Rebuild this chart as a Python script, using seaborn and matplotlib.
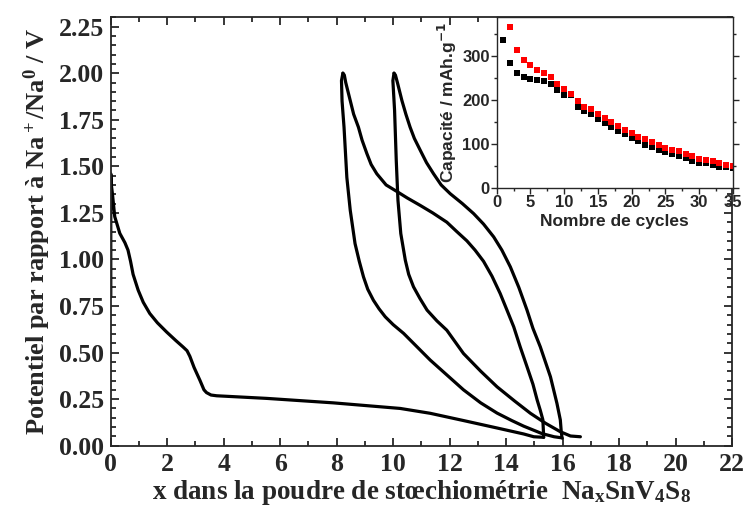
import numpy as np
import pandas as pd
import matplotlib
matplotlib.use("Agg")
import matplotlib.pyplot as plt
from matplotlib.ticker import MultipleLocator, FormatStrFormatter
import seaborn as sns

# galvanostatic curves (x in Na_xSnV4S8, potential in V)
dis1_x = [0.0, 0.0, 0.02, 0.06, 0.14, 0.32, 0.50, 0.61, 0.70, 0.79, 0.97, 1.15, 1.38, 1.65,
          1.98, 2.30, 2.56, 2.70, 2.80, 2.95, 3.16, 3.30, 3.39, 3.55, 3.75, 5.52, 7.88, 10.25,
          11.31, 12.49, 13.68, 14.62, 14.98, 15.33]
dis1_v = [0.80, 1.46, 1.40, 1.35, 1.23, 1.14, 1.09, 1.05, 0.99, 0.92, 0.835, 0.77, 0.71, 0.66,
          0.61, 0.565, 0.53, 0.51, 0.48, 0.42, 0.35, 0.30, 0.285, 0.272, 0.268, 0.254, 0.23, 0.20,
          0.174, 0.135, 0.095, 0.063, 0.048, 0.045]

ch1_x = [15.33, 15.32, 15.30, 15.21, 15.10, 14.95, 14.74, 14.50, 14.27, 14.03, 13.79, 13.50,
         13.20, 12.90, 12.61, 12.25, 11.90, 11.40, 10.96, 10.50, 10.13, 9.75, 9.42, 9.22, 9.07,
         8.90, 8.77, 8.60, 8.48, 8.32, 8.27, 8.22]
ch1_v = [0.045, 0.08, 0.14, 0.19, 0.245, 0.33, 0.424, 0.53, 0.638, 0.728, 0.817, 0.91,
         0.99, 1.05, 1.10, 1.15, 1.20, 1.25, 1.29, 1.33, 1.365, 1.40, 1.46, 1.51, 1.568,
         1.64, 1.71, 1.78, 1.853, 1.95, 1.99, 2.0]

dis2_x = [8.22, 8.17, 8.19, 8.26, 8.36, 8.48, 8.65, 8.80, 8.95, 9.10, 9.30, 9.50, 9.72, 10.00,
          10.37, 10.85, 11.31, 11.90, 12.49, 13.10, 13.68, 14.20, 14.62, 15.27, 15.70, 15.98]
dis2_v = [2.0, 1.96, 1.85, 1.71, 1.44, 1.264, 1.085, 0.99, 0.906, 0.84, 0.781, 0.735, 0.692,
          0.65, 0.603, 0.53, 0.46, 0.38, 0.30, 0.23, 0.175, 0.135, 0.105, 0.065, 0.048, 0.042]

ch2_x = [15.98, 15.95, 15.92, 15.80, 15.57, 15.21, 14.95, 14.74, 14.45, 14.15, 13.85, 13.56,
         13.20, 12.85, 12.45, 12.02, 11.70, 11.43, 11.18, 10.96, 10.75, 10.60, 10.45, 10.31,
         10.15, 10.08, 10.03]
ch2_v = [0.042, 0.08, 0.138, 0.227, 0.37, 0.531, 0.63, 0.728, 0.85, 0.96, 1.05, 1.121,
         1.19, 1.246, 1.30, 1.353, 1.40, 1.46, 1.52, 1.586, 1.65, 1.71, 1.78, 1.853,
         1.95, 1.99, 2.0]

dis3_x = [10.03, 9.99, 10.02, 10.05, 10.11, 10.17, 10.27, 10.43, 10.55, 10.72, 10.95, 11.20,
          11.55, 11.90, 12.49, 13.10, 13.68, 14.30, 14.86, 15.40, 15.92, 16.28, 16.63]
dis3_v = [2.0, 1.96, 1.88, 1.80, 1.53, 1.317, 1.139, 0.996, 0.92, 0.853, 0.79, 0.728,
          0.67, 0.62, 0.495, 0.40, 0.316, 0.24, 0.174, 0.12, 0.075, 0.052, 0.048]

# inset: capacity vs cycle number
cycles_black = list(range(1, 36))
cap_black = [338, 284, 262, 253, 248, 247, 244, 238, 223, 212, 212, 185, 176, 168, 158, 148,
             139, 131, 122, 114, 107, 99, 93, 86, 82, 78, 73, 68, 61, 58, 56, 52, 48, 47, 46]
cycles_red = list(range(2, 36))
cap_red = [367, 315, 292, 281, 269, 262, 253, 238, 225, 215, 198, 185, 180, 168, 160, 151,
           141, 133, 125, 117, 112, 104, 98, 92, 87, 85, 78, 72, 65, 63, 61, 56, 53, 51]

sns.set_style("ticks")
plt.rcParams["font.family"] = ["Liberation Serif", "DejaVu Serif"]
plt.rcParams["font.weight"] = "bold"
plt.rcParams["mathtext.fontset"] = "custom"
plt.rcParams["mathtext.rm"] = "Liberation Serif:bold"
plt.rcParams["mathtext.it"] = "Liberation Serif:bold"
plt.rcParams["mathtext.bf"] = "Liberation Serif:bold"

fig = plt.figure(figsize=(7.44, 5.2), dpi=100)
ax = fig.add_axes([0.1489, 0.1429, 0.835, 0.8238])

branches = [(dis1_x, dis1_v), (ch1_x, ch1_v), (dis2_x, dis2_v), (ch2_x, ch2_v), (dis3_x, dis3_v)]
for bx, bv in branches:
    df = pd.DataFrame({"x": bx, "v": bv})
    sns.lineplot(data=df, x="x", y="v", sort=False, estimator=None, color="black",
                 linewidth=2.3, ax=ax, solid_joinstyle="round", solid_capstyle="round")

ax.set_xlim(0, 22)
ax.set_ylim(0, 2.3)
ax.xaxis.set_major_locator(MultipleLocator(2))
ax.xaxis.set_minor_locator(MultipleLocator(1))
ax.yaxis.set_major_locator(MultipleLocator(0.25))
ax.yaxis.set_minor_locator(MultipleLocator(0.05))
ax.yaxis.set_major_formatter(FormatStrFormatter("%.2f"))
ax.tick_params(which="both", direction="in", top=True, right=True, width=1.3)
ax.tick_params(which="major", length=6, labelsize=18.5, pad=5)
ax.tick_params(which="minor", length=3.5)
for lab in ax.get_xticklabels() + ax.get_yticklabels():
    lab.set_fontweight("bold")
for sp in ax.spines.values():
    sp.set_linewidth(1.3)
ax.set_xlabel(r"x dans la poudre de stœchiométrie  Na$_x$SnV$_4$S$_8$", fontsize=19.5,
              fontweight="bold", labelpad=2)
ax.set_ylabel(r"Potentiel par rapport à Na$^+$/Na$^0$ / V", fontsize=19,
              fontweight="bold", labelpad=4)

# inset
ins = fig.add_axes([0.6675, 0.6385, 0.3177, 0.329])
sns.scatterplot(x=cycles_black, y=cap_black, marker="s", s=24, color="black",
                linewidth=0, ax=ins)
sns.scatterplot(x=cycles_red, y=cap_red, marker="s", s=24, color="red",
                linewidth=0, ax=ins)
ins.set_xlim(0, 35)
ins.set_ylim(0, 390)
ins.xaxis.set_major_locator(MultipleLocator(5))
ins.xaxis.set_minor_locator(MultipleLocator(2.5))
ins.yaxis.set_major_locator(MultipleLocator(100))
ins.yaxis.set_minor_locator(MultipleLocator(50))
ins.tick_params(which="both", direction="out", top=False, right=True, width=1.0)
ins.tick_params(which="major", length=4, labelsize=12, pad=1)
ins.tick_params(which="minor", length=2)
for lab in ins.get_xticklabels() + ins.get_yticklabels():
    lab.set_fontfamily(["Liberation Sans", "DejaVu Sans"])
    lab.set_fontweight("bold")
for sp in ins.spines.values():
    sp.set_linewidth(1.0)
ins.set_xlabel("Nombre de cycles", fontsize=12.5, fontweight="bold",
               family=["Liberation Sans", "DejaVu Sans"], labelpad=3)
ylab = ins.set_ylabel(r"Capacité / mAh.g$^{\mathbf{-1}}$", fontsize=12.5, fontweight="bold",
                      family=["Liberation Sans", "DejaVu Sans"], labelpad=2)
ylab.set_math_fontfamily("dejavusans")

fig.savefig("out.png", dpi=100)
